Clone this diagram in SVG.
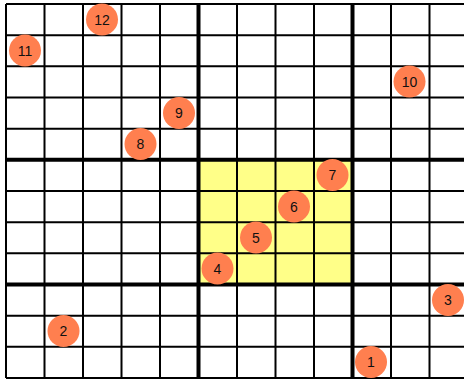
<svg xmlns="http://www.w3.org/2000/svg" width="464" height="381" viewBox="0 0 464 381">
<style>
.thin{stroke:#000;stroke-width:2;fill:none}
.thick{stroke:#000;stroke-width:4;fill:none}
.dot{fill:#ff7f4f}
.lbl{font-family:"Liberation Sans",Arial,sans-serif;font-size:14px;fill:#111;text-anchor:middle}
</style>
<rect width="464" height="381" fill="#fff"/>
<rect x="198.5" y="159.83" width="154" height="124.67" fill="#ffff88"/>
<g id="grid">
<path class="thin" d="M6 4V378M44.5 4V378M83 4V378M121.5 4V378M160 4V378M237 4V378M275.5 4V378M314 4V378M391 4V378M429.5 4V378M468 4V378
M6 4H468M6 35.17H468M6 66.33H468M6 97.5H468M6 128.67H468M6 191H468M6 222.17H468M6 253.33H468M6 315.67H468M6 346.83H468M6 378H468"/>
<path class="thick" d="M198.5 4V378M352.5 4V378M6 159.83H468M6 284.5H468"/>
</g>
<g id="connectors"></g>
<g id="n1"><circle class="dot" cx="371" cy="362" r="16"/><text class="lbl" x="371" y="367">1</text></g>
<g id="n2"><circle class="dot" cx="63.5" cy="331" r="16"/><text class="lbl" x="63.5" y="336">2</text></g>
<g id="n3"><circle class="dot" cx="448" cy="300" r="16"/><text class="lbl" x="448" y="305">3</text></g>
<g id="n4"><circle class="dot" cx="217.5" cy="268.5" r="16"/><text class="lbl" x="217.5" y="273.5">4</text></g>
<g id="n5"><circle class="dot" cx="256" cy="237.5" r="16"/><text class="lbl" x="256" y="242.5">5</text></g>
<g id="n6"><circle class="dot" cx="294" cy="206.5" r="16"/><text class="lbl" x="294" y="211.5">6</text></g>
<g id="n7"><circle class="dot" cx="332.5" cy="175" r="16"/><text class="lbl" x="332.5" y="180">7</text></g>
<g id="n8"><circle class="dot" cx="140.5" cy="144" r="16"/><text class="lbl" x="140.5" y="149">8</text></g>
<g id="n9"><circle class="dot" cx="179" cy="113" r="16"/><text class="lbl" x="179" y="118">9</text></g>
<g id="n10"><circle class="dot" cx="409.5" cy="81.5" r="16"/><text class="lbl" x="409.5" y="86.5">10</text></g>
<g id="n11"><circle class="dot" cx="25" cy="50.5" r="16"/><text class="lbl" x="25" y="55.5">11</text></g>
<g id="n12"><circle class="dot" cx="102" cy="19.5" r="16"/><text class="lbl" x="102" y="24.5">12</text></g>
</svg>
